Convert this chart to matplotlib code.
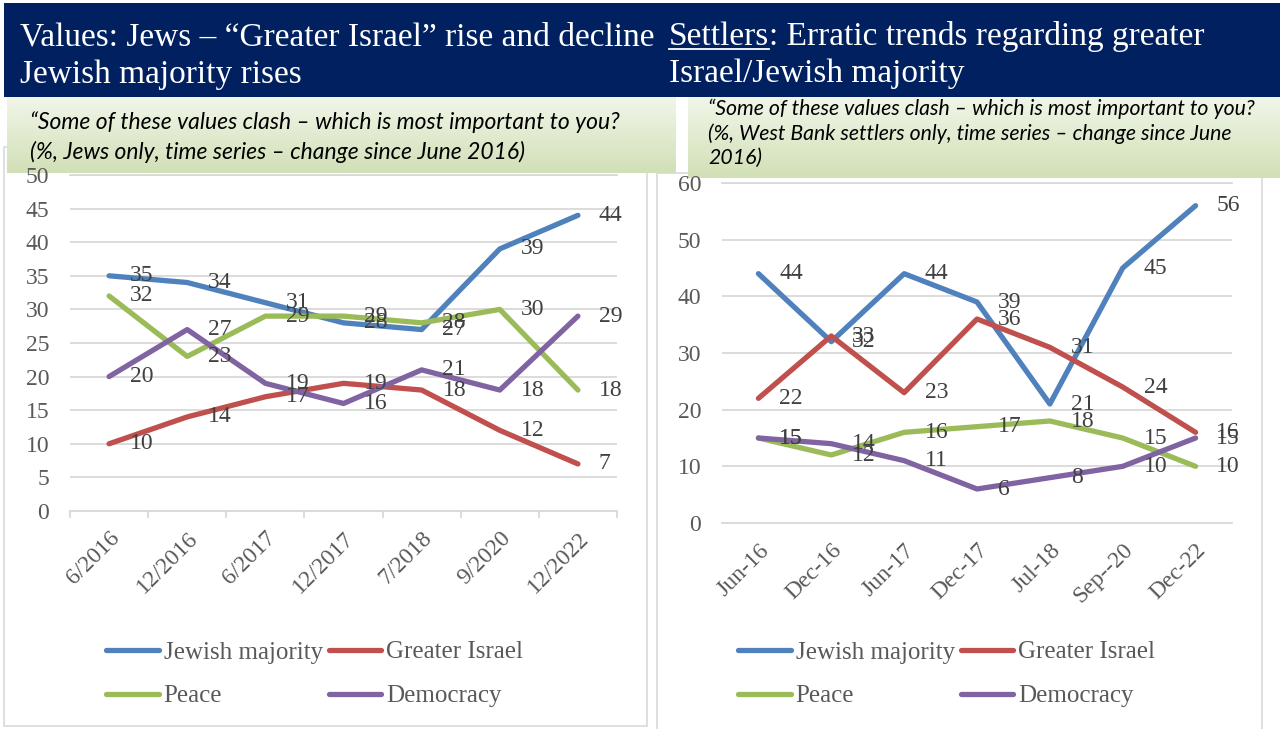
import matplotlib
matplotlib.use("Agg")
import matplotlib.pyplot as plt
import numpy as np
from matplotlib.patches import Rectangle
from matplotlib.lines import Line2D

# ---------------- data ----------------
series_names = ["Jewish majority", "Greater Israel", "Peace", "Democracy"]
colors = ["#4F81BD", "#C0504D", "#9BBB59", "#8064A2"]

left_categories = ["6/2016", "12/2016", "6/2017", "12/2017", "7/2018", "9/2020", "12/2022"]
left_jewish_majority = [35, 34, 31, 28, 27, 39, 44]
left_greater_israel = [10, 14, 17, 19, 18, 12, 7]
left_peace = [32, 23, 29, 29, 28, 30, 18]
left_democracy = [20, 27, 19, 16, 21, 18, 29]

right_categories = ["Jun-16", "Dec-16", "Jun-17", "Dec-17", "Jul-18", "Sep--20", "Dec-22"]
right_jewish_majority = [44, 32, 44, 39, 21, 45, 56]
right_greater_israel = [22, 33, 23, 36, 31, 24, 16]
right_peace = [15, 12, 16, 17, 18, 15, 10]
right_democracy = [15, 14, 11, 6, 8, 10, 15]

left_title = ["Values: Jews \u2013 \u201cGreater Israel\u201d rise and decline", "Jewish majority rises"]
right_title_u = "Settlers"
right_title = [": Erratic trends regarding greater", "Israel/Jewish majority"]
left_sub = ["\u201cSome of these values clash \u2013 which is most important to you?",
            "(%, Jews only, time series \u2013 change since June 2016)"]
right_sub = ["\u201cSome of these values clash \u2013 which is most important to you?",
             "(%, West Bank settlers only, time series \u2013 change since June",
             "2016)"]

W, H = 1280, 729
fig = plt.figure(figsize=(W / 100, H / 100), dpi=100)
fig.patch.set_facecolor("white")

def fx(x):
    return x / W

def fy(y):
    return 1 - y / H

SERIF = ["Liberation Serif", "DejaVu Serif"]
SUBF = ["Lato", "Liberation Sans", "DejaVu Sans"]
GRID = "#d9d9d9"
TXT = "#595959"
LBL = "#404040"

# ---------------- background panels ----------------
def rect(x0, y0, x1, y1, fc, ec="none", lw=0, z=0):
    r = Rectangle((fx(x0), fy(y1)), fx(x1) - fx(x0), fy(y0) - fy(y1),
                  transform=fig.transFigure, facecolor=fc, edgecolor=ec,
                  linewidth=lw, zorder=z)
    fig.patches.append(r)

rect(4, 147, 647, 726, "white", GRID, 1.2, z=0.1)
rect(657, 173, 1262, 735, "white", GRID, 1.2, z=0.2)

def gradient_box(x0, y0, x1, y1, z):
    gax = fig.add_axes([fx(x0), fy(y1), fx(x1) - fx(x0), fy(y0) - fy(y1)], zorder=z)
    top = np.array([0.945, 0.965, 0.910])
    bot = np.array([0.820, 0.878, 0.718])
    t = np.linspace(0, 1, 64)[:, None]
    img = top[None, :] * (1 - t) + bot[None, :] * t
    img = np.repeat(img[:, None, :], 2, axis=1)
    gax.imshow(img, aspect="auto", extent=[0, 1, 0, 1])
    gax.set_axis_off()

gradient_box(7, 97, 676, 173, 0.3)
gradient_box(688, 97, 1280, 178, 0.4)

rect(4, 3, 1280, 97, "#002060", z=0.5)

# ---------------- titles ----------------
TFS = 24
for i, line in enumerate(left_title):
    fig.text(fx(20), fy(45 + 38 * i), line, fontsize=TFS, color="white",
             family=SERIF, va="baseline", ha="left", zorder=5)

t_u = fig.text(fx(669), fy(45), right_title_u, fontsize=TFS, color="white",
               family=SERIF, va="baseline", ha="left", zorder=5)
fig.canvas.draw()
bb = t_u.get_window_extent(fig.canvas.get_renderer())
fig.text(bb.x1 / W, fy(45), right_title[0], fontsize=TFS, color="white",
         family=SERIF, va="baseline", ha="left", zorder=5)
fig.lines.append(Line2D([bb.x0 / W, bb.x1 / W], [fy(49), fy(49)],
                        transform=fig.transFigure, color="white", lw=1.3, zorder=5))
fig.text(fx(669), fy(82), right_title[1], fontsize=TFS, color="white",
         family=SERIF, va="baseline", ha="left", zorder=5)

for i, line in enumerate(left_sub):
    fig.text(fx(30), fy(122 + 30 * i), line, fontsize=16.5, color="black",
             family=SUBF, style="italic", va="center", ha="left", zorder=5)
for i, line in enumerate(right_sub):
    fig.text(fx(708), fy(109 + 24.5 * i), line, fontsize=15.3, color="black",
             family=SUBF, style="italic", va="center", ha="left", zorder=5)

# ---------------- charts ----------------
FS = 17

def make_chart(box, cats, data, ymax, ystep, ticks_marks, legend_xy):
    x0, ytop, x1, ybot = box
    ax = fig.add_axes([fx(x0), fy(ybot), fx(x1) - fx(x0), fy(ytop) - fy(ybot)], zorder=1)
    ax.set_facecolor("none")
    xs = np.arange(len(cats))
    handles = []
    for name, vals, c in zip(series_names, data, colors):
        ln, = ax.plot(xs, vals, color=c, lw=3.8, solid_capstyle="round",
                      solid_joinstyle="round", label=name, zorder=3)
        handles.append(ln)
        for xv, yv in zip(xs, vals):
            ax.annotate(str(yv), (xv, yv), xytext=(15, 0), textcoords="offset points",
                        ha="left", va="center", fontsize=FS, color=LBL,
                        family=SERIF, annotation_clip=False, zorder=4)
    ax.set_xlim(-0.5, len(cats) - 0.5)
    ax.set_ylim(0, ymax)
    ax.set_yticks(np.arange(0, ymax + 0.1, ystep))
    ax.yaxis.grid(True, color=GRID, lw=1.3)
    ax.set_axisbelow(True)
    for s in ["left", "right"]:
        ax.spines[s].set_visible(False)
    for s in ["top", "bottom"]:
        ax.spines[s].set_color(GRID)
        ax.spines[s].set_linewidth(1.3)
    ax.tick_params(axis="y", length=0, pad=15, labelsize=FS, labelcolor=TXT)
    ax.set_xticks(xs)
    ax.set_xticklabels(cats, rotation=45, ha="right", rotation_mode="anchor",
                       fontsize=FS, color=TXT, family=SERIF)
    for lab in ax.get_yticklabels():
        lab.set_family(SERIF)
    ax.tick_params(axis="x", length=0, pad=12)
    if ticks_marks:
        ax.set_xticks(np.arange(-0.5, len(cats)), minor=True)
        ax.tick_params(axis="x", which="minor", length=5, color=GRID, width=1.3)
    order = [0, 2, 1, 3]
    ax.legend([handles[i] for i in order], [series_names[i] for i in order],
              ncol=2, loc="upper left",
              bbox_to_anchor=(fx(legend_xy[0]), fy(legend_xy[1])),
              bbox_transform=fig.transFigure, frameon=False,
              prop={"family": SERIF, "size": 18}, labelcolor=TXT,
              handlelength=2.1, handletextpad=0.2, columnspacing=0.25,
              labelspacing=0.85, borderpad=0, borderaxespad=0)
    return ax

make_chart((70, 175, 617, 511), left_categories,
           [left_jewish_majority, left_greater_israel, left_peace, left_democracy],
           50, 5, True, (106, 641))
make_chart((722, 183, 1232, 523), right_categories,
           [right_jewish_majority, right_greater_israel, right_peace, right_democracy],
           60, 10, False, (738, 641))

fig.savefig("out.png", dpi=100, facecolor="white")
